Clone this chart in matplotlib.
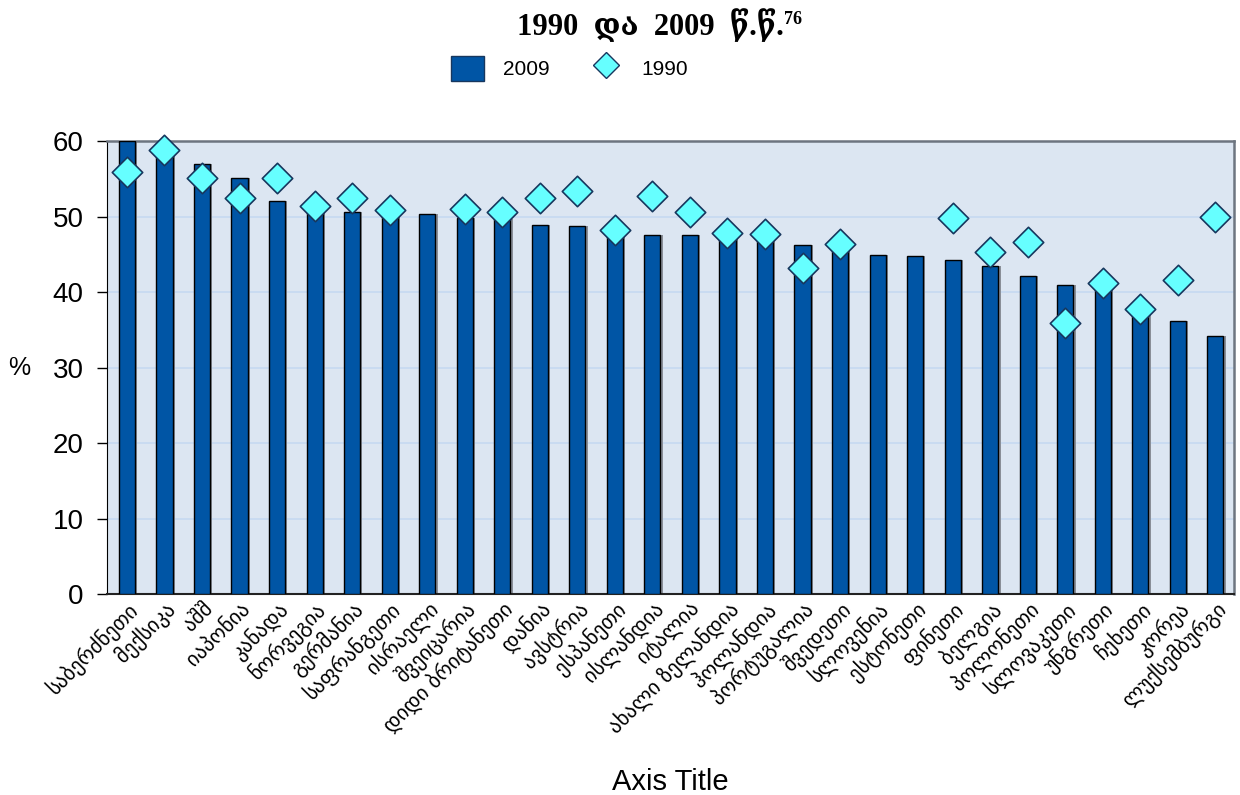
import matplotlib.pyplot as plt
import numpy as np
from matplotlib.lines import Line2D
from matplotlib.patches import Patch

# countries (Georgian labels)
countries = [
    'საბერძნეთი', 'მექსიკა', 'აშშ', 'იაპონია', 'კანადა', 'ნორვეგია',
    'გერმანია', 'საფრანგეთი', 'ისრაელი', 'შვეიცარია', 'დიდი ბრიტანეთი',
    'დანია', 'ავსტრია', 'ესპანეთი', 'ისლანდია', 'იტალია', 'ახალი ზელანდია',
    'ჰოლანდია', 'პორტუგალია', 'შვედეთი', 'სლოვენია', 'ესტონეთი', 'ფინეთი',
    'ბელგია', 'პოლონეთი', 'სლოვაკეთი', 'უნგრეთი', 'ჩეხეთი', 'კორეა',
    'ლუქსემბურგი',
]

# 2009 values (bars)
vals_2009 = [60.0, 58.9, 57.0, 55.1, 52.1, 51.3, 50.6, 50.4, 50.4, 49.8,
             49.7, 48.9, 48.7, 48.0, 47.5, 47.5, 47.3, 46.8, 46.2, 45.5,
             44.9, 44.8, 44.2, 43.5, 42.1, 40.9, 40.7, 37.6, 36.1, 34.2]

# 1990 values (diamonds), None = no data
vals_1990 = [55.9, 58.8, 55.1, 52.5, 55.1, 51.4, 52.4, 50.8, None, 51.0,
             50.6, 52.4, 53.4, 48.2, 52.7, 50.6, 47.8, 47.7, 43.2, 46.3,
             None, None, 49.8, 45.3, 46.6, 35.9, 41.2, 37.8, 41.6, 49.9]

plt.rcParams['font.family'] = ['Liberation Sans', 'DejaVu Sans']

fig = plt.figure(figsize=(12.4, 7.95), dpi=100)
ax = fig.add_axes([0.0863, 0.2528, 0.909, 0.5698])
ax.set_facecolor('#dce6f2')

x = np.arange(len(countries))

# bar shadow then bars
ax.bar(x + 0.06, vals_2009, width=0.43, color='#8a8f98', zorder=2)
ax.bar(x, vals_2009, width=0.43, color='#0055a5', edgecolor='black',
       linewidth=1.0, zorder=3)

x90 = [i for i, v in enumerate(vals_1990) if v is not None]
y90 = [v for v in vals_1990 if v is not None]
ax.scatter(x90, y90, marker='D', s=240, color='#66ffff', edgecolor='#17375e',
           linewidth=1.2, zorder=4, clip_on=False)

ax.set_xlim(-0.53, 29.5)
ax.set_ylim(0, 60)
ax.set_yticks(range(0, 61, 10))
ax.yaxis.grid(True, color='#c6d9f1', linewidth=1.2, zorder=1)
ax.set_axisbelow(True)
ax.tick_params(axis='y', labelsize=20, length=7, width=1, pad=10)
ax.tick_params(axis='x', length=0, pad=3)

ax.set_xticks(x)
ax.set_xticklabels(countries, rotation=45, ha='right', rotation_mode='anchor',
                   fontsize=15, family=['DejaVu Sans'])
ax.set_ylabel('%', fontsize=18, rotation=0, labelpad=24, va='center')
ax.set_xlabel('Axis Title', fontsize=21, labelpad=22)

for s in ['top', 'right']:
    ax.spines[s].set_color('#6d7580')
    ax.spines[s].set_linewidth(1.8)
ax.spines['left'].set_color('black')
ax.spines['bottom'].set_color('#222222')
ax.spines['bottom'].set_linewidth(1.5)

# title with separate superscript
title = fig.text(0.417, 0.968, '1990  და  2009  წ.წ.', ha='left', va='center',
                 fontsize=22, fontweight='bold',
                 family=['Liberation Serif', 'DejaVu Serif'])
ax.annotate('76', xy=(1.0, 0.92), xycoords=title, ha='left', va='top',
            fontsize=13, fontweight='bold', family=['Liberation Serif'])

handles = [Patch(facecolor='#0055a5', edgecolor='#17375e', label='2009'),
           Line2D([], [], marker='D', linestyle='none', markersize=13,
                  markerfacecolor='#66ffff', markeredgecolor='#17375e',
                  label='1990')]
fig.legend(handles=handles, loc='center', bbox_to_anchor=(0.459, 0.914),
           ncol=2, frameon=False, fontsize=15, handlelength=1.6,
           handleheight=1.5, columnspacing=1.9, handletextpad=0.9)

fig.savefig('out.png', dpi=100)
